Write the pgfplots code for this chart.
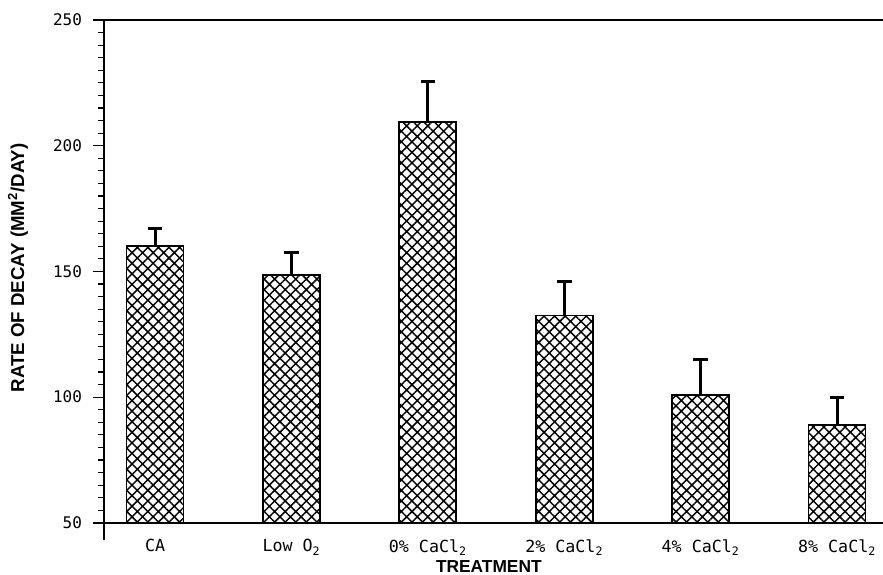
\documentclass[border=0pt]{standalone}
\usepackage{fontspec}
\setmainfont{Liberation Sans}
\newfontfamily\plotfont{DejaVu Sans Mono}
\usepackage{pgfplots}
\pgfplotsset{compat=1.18}
\usetikzlibrary{patterns.meta}
\begin{document}
\begin{tikzpicture}
\begin{axis}[
  name=ax,
  scale only axis,
  width=584pt, height=377pt,
  xmin=-0.374, xmax=5.337,
  ymin=50, ymax=250,
  axis line style={draw=none},
  ytick={50,100,150,200,250},
  minor y tick num=9,
  ytick pos=left,
  tick align=outside,
  major tick length=8pt,
  minor tick length=4.5pt,
  tick style={line width=0.9pt, black},
  xtick=data,
  xticklabels={CA, Low O\textsubscript{2}, 0\% CaCl\textsubscript{2}, 2\% CaCl\textsubscript{2}, 4\% CaCl\textsubscript{2}, 8\% CaCl\textsubscript{2}},
  x tick style={draw=none},
  /pgf/number format/assume math mode=true,
  yticklabel style={font=\plotfont\fontsize{12}{12}\selectfont, xshift=-5pt},
  xticklabel style={font=\plotfont\fontsize{12.5}{12.5}\selectfont, yshift=-1pt},
  xlabel={TREATMENT},
  ylabel={RATE OF DECAY (MM\textsuperscript{2}/DAY)},
  xlabel style={font=\bfseries\fontsize{13}{13}\selectfont, at={(axis description cs:0.494,-0.0875)}, anchor=center},
  ylabel style={font=\bfseries\fontsize{14}{14}\selectfont, at={(axis description cs:-0.1104,0.507)}, anchor=center},
]
\addplot[ybar, bar width=0.418, draw=black, line width=1.3pt,
  pattern={Hatch[angle=45,distance=5.6pt,line width=1.1pt]},
  error bars/.cd, y dir=plus, y explicit,
  error bar style={line width=2.2pt, black},
  error mark options={line width=2.2pt, mark size=5.5pt, black, rotate=90}]
  table[x=x, y=y, y error=e] {
x y e
0 160 7
1 148.5 9
2 209.5 16
3 132.5 13.5
4 101 14
5 89 11
};
\end{axis}
\draw[line width=1.6pt] (ax.north west) -- (ax.north east);
\draw[line width=1.6pt] (ax.north west) -- ([yshift=-13pt]ax.south west);
\draw[line width=1.6pt] ([xshift=-8pt]ax.south west) -- (ax.south east);
\pgfresetboundingbox
\useasboundingbox ([xshift=-78pt,yshift=-39pt]ax.south west) rectangle ([yshift=15pt]ax.north east);
\end{tikzpicture}
\end{document}
